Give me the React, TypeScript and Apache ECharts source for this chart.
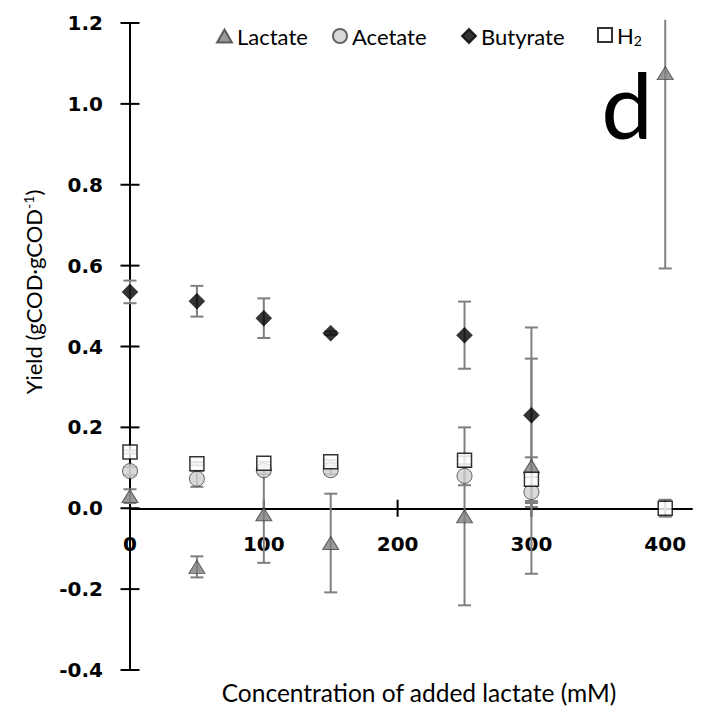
import { useEffect, useRef } from "react";
import * as echarts from "echarts";

// ---- data ----
const concentrations = [0, 50, 100, 150, 250, 300, 400];
const lactate = [0.03, -0.145, -0.015, -0.086, -0.02, 0.104, 1.076];
const lactateErr = [0.017, 0.026, 0.12, 0.122, 0.22, 0.266, 0.483];
const acetate = [0.092, 0.073, 0.094, 0.094, 0.08, 0.04, null];
const acetateErr = [0.01, 0.02, 0.01, 0.01, 0.023, 0.037, null];
const butyrate = [0.535, 0.512, 0.47, 0.433, 0.428, 0.23, null];
const butyrateErr = [0.028, 0.038, 0.049, 0.004, 0.083, 0.217, null];
const hydrogen = [0.139, 0.11, 0.111, 0.115, 0.119, 0.072, 0.0];
const hydrogenErr = [0.004, 0.004, 0.004, 0.004, 0.01, 0.054, 0.021];

const xTicks = [0, 100, 200, 300, 400];
const xTickLabels = ["0", "100", "200", "300", "400"];
const yTicks = [-0.4, -0.2, 0, 0.2, 0.4, 0.6, 0.8, 1.0, 1.2];
const X_MIN = 0;
const X_MAX = 420;
const X_STEP = 100;
const Y_MIN = -0.4;
const Y_MAX = 1.2;
const Y_STEP = 0.2;

const seriesNames = ["Lactate", "Acetate", "Butyrate", "H2"];

const TEXT_FONT = "Lato, 'Open Sans', sans-serif";
const TICK_FONT = "'DejaVu Sans', Verdana, sans-serif";

function points(vals: (number | null)[]) {
  const out: number[][] = [];
  concentrations.forEach((x, i) => {
    const v = vals[i];
    if (v !== null && v !== undefined) out.push([x, v]);
  });
  return out;
}

function errRows(vals: (number | null)[], errs: (number | null)[]) {
  const out: number[][] = [];
  concentrations.forEach((x, i) => {
    const v = vals[i];
    const e = errs[i];
    if (v !== null && v !== undefined && e !== null && e !== undefined) {
      out.push([x, v - e, v + e]);
    }
  });
  return out;
}

const errRender = (_params: any, api: any) => {
  const x = api.value(0);
  const loRaw = api.value(1);
  const hiRaw = api.value(2);
  const lo = Math.max(loRaw, Y_MIN);
  const hi = Math.min(hiRaw, Y_MAX + 0.008);
  const pLo = api.coord([x, lo]);
  const pHi = api.coord([x, hi]);
  const half = 6.5;
  const style = { stroke: "#7f7f7f", lineWidth: 2, fill: "none" };
  const children: any[] = [
    { type: "line", shape: { x1: pLo[0], y1: pLo[1], x2: pHi[0], y2: pHi[1] }, style },
  ];
  if (hiRaw <= Y_MAX) {
    children.push({
      type: "line",
      shape: { x1: pHi[0] - half, y1: pHi[1], x2: pHi[0] + half, y2: pHi[1] },
      style,
    });
  }
  if (loRaw >= Y_MIN) {
    children.push({
      type: "line",
      shape: { x1: pLo[0] - half, y1: pLo[1], x2: pLo[0] + half, y2: pLo[1] },
      style,
    });
  }
  return { type: "group", children };
};

// crossing tick marks on the x axis (which sits at y = 0) plus their labels
const xTickRender = (params: any, api: any) => {
  const p = api.coord([api.value(0), 0]);
  return {
    type: "group",
    children: [
      {
        type: "line",
        shape: { x1: p[0], y1: p[1] - 8.5, x2: p[0], y2: p[1] + 8.5 },
        style: { stroke: "#000", lineWidth: 2 },
      },
      {
        type: "text",
        x: p[0],
        y: p[1] + 36,
        style: {
          text: xTickLabels[params.dataIndex],
          fontFamily: TICK_FONT,
          fontWeight: "bold",
          fontSize: 20,
          fill: "#000",
          align: "center",
          verticalAlign: "middle",
        },
      },
    ],
  };
};

const yTickRender = (_params: any, api: any) => {
  const p = api.coord([0, api.value(1)]);
  return {
    type: "line",
    shape: { x1: p[0] - 9.5, y1: p[1], x2: p[0] + 9.5, y2: p[1] },
    style: { stroke: "#000", lineWidth: 2 },
  };
};

export default function App() {
  const ref = useRef<HTMLDivElement>(null);

  useEffect(() => {
    document.body.style.margin = "0";
    if (!ref.current) return;
    const chart = echarts.init(ref.current, null, { renderer: "svg" });

    const errSeries = [
      [lactate, lactateErr],
      [acetate, acetateErr],
      [butyrate, butyrateErr],
      [hydrogen, hydrogenErr],
    ].map(([v, e], i) => ({
      type: "custom",
      id: "err" + i,
      renderItem: errRender,
      data: errRows(v as any, e as any),
      z: 2,
      clip: false,
      silent: true,
    }));

    const legendIcons = ["triangle", "circle", "diamond", "rect"];
    const legendLefts = [211, 327, 456, 592];

    const option: any = {
      animation: false,
      backgroundColor: "#ffffff",
      grid: { left: 130, right: 13, top: 23, bottom: 54 },
      legend: seriesNames.map((n, i) => {
        const base: any = {
          data: [{ name: n, icon: legendIcons[i] }],
          left: legendLefts[i],
          top: 20,
          itemWidth: i === 0 ? 15 : 14,
          itemHeight: i === 0 ? 13 : 14,
          itemGap: 0,
          selectedMode: false,
          textStyle: {
            fontFamily: TEXT_FONT,
            fontSize: 22,
            color: "#000",
          },
        };
        if (n === "H2") {
          base.top = 19;
          base.formatter = () => "H{sub|2}";
          base.textStyle.rich = {
            sub: {
              fontFamily: TEXT_FONT,
              fontSize: 14,
              color: "#000",
              padding: [10, 0, 0, 0],
            },
          };
        }
        return base;
      }),
      xAxis: {
        type: "value",
        min: X_MIN,
        max: X_MAX,
        interval: X_STEP,
        splitLine: { show: false },
        axisTick: { show: false },
        axisLabel: { show: false },
        axisLine: {
          show: true,
          onZero: true,
          lineStyle: { color: "#000", width: 2 },
        },
      },
      yAxis: {
        type: "value",
        min: Y_MIN,
        max: Y_MAX,
        interval: Y_STEP,
        splitLine: { show: false },
        axisTick: { show: false },
        axisLine: {
          show: true,
          onZero: false,
          lineStyle: { color: "#000", width: 2 },
        },
        axisLabel: {
          fontFamily: TICK_FONT,
          fontWeight: "bold",
          fontSize: 20,
          color: "#000",
          margin: 27,
          formatter: (v: number) => v.toFixed(1),
        },
      },
      graphic: [
        {
          type: "text",
          x: 33,
          y: 292,
          rotation: Math.PI / 2,
          style: {
            text: "Yield (gCOD·gCOD{sup|-1})",
            fontFamily: TEXT_FONT,
            fontSize: 22,
            fill: "#000",
            align: "center",
            verticalAlign: "middle",
            rich: {
              sup: {
                fontFamily: TEXT_FONT,
                fontSize: 14,
                fill: "#000",
                padding: [0, 0, 9, 0],
              },
            },
          },
        },
        {
          type: "text",
          x: 419,
          y: 692,
          style: {
            text: "Concentration of added lactate (mM)",
            fontFamily: TEXT_FONT,
            fontSize: 24.5,
            fill: "#000",
            align: "center",
            verticalAlign: "middle",
          },
        },
        {
          type: "text",
          x: 627,
          y: 103,
          style: {
            text: "d",
            fontFamily: TEXT_FONT,
            fontSize: 92,
            fill: "#000",
            align: "center",
            verticalAlign: "middle",
          },
        },
      ],
      series: [
        {
          type: "custom",
          id: "xticks",
          renderItem: xTickRender,
          data: xTicks.map((v) => [v, 0]),
          z: 1,
          clip: false,
          silent: true,
        },
        {
          type: "custom",
          id: "yticks",
          renderItem: yTickRender,
          data: yTicks.map((v) => [0, v]),
          z: 1,
          clip: false,
          silent: true,
        },
        ...errSeries,
        {
          name: "Lactate",
          type: "scatter",
          symbol: "triangle",
          symbolSize: [16, 13],
          data: points(lactate),
          itemStyle: { color: "#808080", borderColor: "#404040", borderWidth: 1 },
          z: 3,
          clip: false,
        },
        {
          name: "Acetate",
          type: "scatter",
          symbol: "circle",
          symbolSize: 15,
          data: points(acetate),
          itemStyle: { color: "#d0d0d0", borderColor: "#404040", borderWidth: 1 },
          z: 4,
          clip: false,
        },
        {
          name: "Butyrate",
          type: "scatter",
          symbol: "diamond",
          symbolSize: 16,
          data: points(butyrate),
          itemStyle: { color: "#000000", borderColor: "#000000", borderWidth: 0.5 },
          z: 5,
          clip: false,
        },
        {
          name: "H2",
          type: "scatter",
          symbol: "rect",
          symbolSize: 14,
          data: points(hydrogen),
          itemStyle: { color: "#ffffff", borderColor: "#000000", borderWidth: 1.5 },
          z: 6,
          clip: false,
        },
      ],
    };

    chart.setOption(option);
    return () => chart.dispose();
  }, []);

  return <div ref={ref} style={{ width: 705, height: 724 }} />;
}
